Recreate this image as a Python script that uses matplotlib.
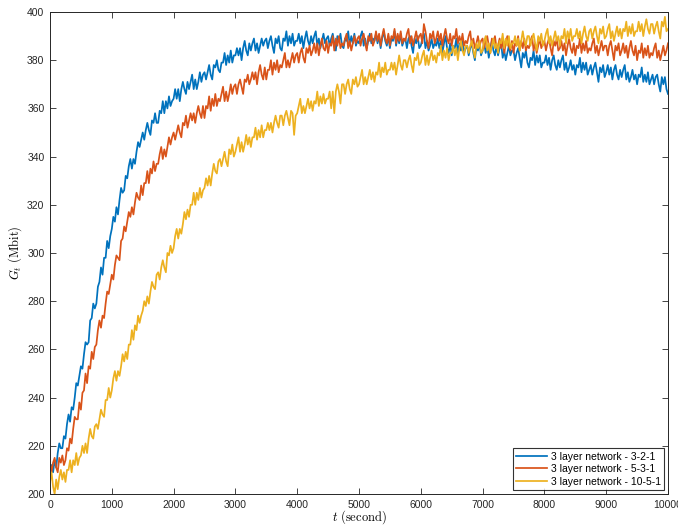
import matplotlib
matplotlib.use("Agg")
import matplotlib.pyplot as plt
import numpy as np

plt.rcParams['font.family'] = ['Liberation Sans', 'DejaVu Sans']
plt.rcParams['mathtext.fontset'] = 'cm'

t_start, t_step = 0, 25

blue_321 = [
    207, 212, 209, 214, 211, 217, 221, 219, 219, 224,
    223, 229, 233, 230, 236, 235, 240, 246, 245, 249,
    253, 252, 258, 263, 262, 263, 272, 273, 279, 277,
    279, 286, 288, 294, 291, 298, 298, 305, 302, 307,
    310, 315, 313, 319, 316, 322, 327, 325, 326, 332,
    331, 336, 339, 335, 339, 337, 342, 346, 344, 347,
    350, 347, 351, 354, 351, 349, 355, 354, 358, 354,
    354, 359, 358, 363, 358, 363, 360, 365, 361, 363,
    364, 368, 364, 368, 363, 368, 371, 368, 366, 371,
    368, 371, 374, 368, 372, 368, 371, 375, 371, 374,
    375, 372, 375, 378, 374, 372, 378, 377, 380, 376,
    375, 379, 379, 383, 378, 382, 379, 384, 379, 382,
    382, 385, 382, 385, 380, 385, 388, 384, 382, 387,
    384, 387, 389, 384, 387, 383, 386, 389, 386, 388,
    389, 385, 388, 390, 386, 383, 389, 387, 390, 385,
    384, 389, 388, 392, 386, 390, 387, 391, 386, 388,
    388, 391, 387, 390, 385, 389, 392, 388, 386, 390,
    387, 390, 392, 386, 389, 385, 388, 391, 387, 389,
    390, 386, 389, 391, 387, 384, 390, 388, 391, 386,
    385, 389, 388, 392, 386, 390, 387, 391, 386, 388,
    387, 390, 392, 386, 389, 385, 388, 391, 387, 389,
    388, 391, 387, 390, 385, 389, 392, 388, 386, 390,
    385, 389, 388, 392, 386, 390, 387, 391, 386, 388,
    389, 385, 389, 390, 386, 383, 389, 387, 390, 385,
    386, 389, 391, 385, 388, 384, 386, 389, 385, 387,
    386, 389, 385, 388, 383, 387, 390, 385, 383, 387,
    382, 386, 385, 389, 383, 387, 384, 388, 383, 385,
    386, 382, 385, 387, 383, 380, 386, 384, 387, 382,
    384, 387, 383, 386, 381, 385, 388, 384, 382, 386,
    382, 385, 387, 381, 384, 380, 383, 386, 382, 384,
    384, 380, 383, 385, 381, 377, 383, 381, 384, 379,
    377, 381, 380, 384, 378, 382, 379, 382, 377, 379,
    379, 382, 378, 381, 376, 380, 382, 378, 376, 380,
    377, 380, 382, 376, 379, 375, 377, 380, 376, 378,
    374, 378, 377, 381, 375, 379, 376, 379, 374, 376,
    378, 374, 377, 379, 375, 371, 377, 375, 378, 373,
    375, 378, 374, 377, 372, 376, 378, 374, 372, 376,
    373, 376, 378, 372, 375, 371, 373, 376, 372, 374,
    370, 374, 373, 377, 371, 374, 371, 375, 370, 372,
    374, 370, 373, 374, 370, 367, 373, 370, 373, 368,
    366,
]

orange_531 = [
    213, 209, 213, 215, 211, 209, 215, 213, 216, 212,
    214, 219, 218, 223, 221, 227, 232, 231, 231, 238,
    235, 242, 243, 250, 246, 253, 252, 259, 256, 261,
    262, 268, 272, 269, 274, 273, 279, 284, 283, 287,
    291, 289, 295, 299, 298, 297, 305, 306, 311, 309,
    313, 317, 315, 319, 316, 321, 325, 323, 322, 328,
    324, 329, 329, 334, 329, 335, 333, 338, 334, 337,
    337, 341, 344, 339, 343, 340, 344, 348, 345, 348,
    350, 347, 350, 353, 350, 348, 354, 353, 357, 352,
    355, 358, 355, 358, 354, 358, 361, 358, 356, 361,
    356, 361, 360, 365, 359, 364, 361, 366, 361, 364,
    363, 366, 369, 363, 367, 363, 366, 370, 366, 369,
    370, 366, 370, 372, 369, 366, 372, 371, 374, 370,
    372, 375, 372, 375, 370, 375, 378, 374, 372, 377,
    372, 376, 376, 380, 374, 379, 376, 380, 375, 378,
    377, 380, 383, 377, 380, 377, 380, 383, 379, 382,
    383, 379, 383, 385, 381, 379, 385, 383, 386, 382,
    384, 387, 383, 387, 382, 386, 389, 385, 384, 388,
    383, 387, 386, 390, 384, 389, 386, 390, 385, 387,
    386, 389, 391, 385, 388, 384, 387, 390, 387, 389,
    390, 386, 389, 391, 387, 384, 390, 388, 391, 386,
    388, 392, 388, 391, 386, 390, 393, 389, 387, 391,
    386, 390, 389, 393, 387, 391, 388, 392, 387, 389,
    388, 391, 393, 387, 390, 386, 389, 392, 388, 390,
    391, 387, 395, 392, 388, 385, 391, 389, 392, 387,
    389, 392, 388, 391, 386, 390, 393, 389, 387, 391,
    386, 390, 389, 393, 387, 390, 387, 391, 386, 388,
    387, 390, 392, 386, 389, 385, 387, 390, 386, 388,
    389, 385, 388, 390, 386, 383, 389, 387, 390, 385,
    386, 389, 385, 388, 383, 387, 390, 386, 384, 388,
    383, 387, 386, 390, 384, 388, 385, 389, 384, 386,
    385, 388, 390, 384, 387, 383, 386, 389, 385, 387,
    388, 384, 387, 389, 385, 382, 388, 386, 389, 384,
    385, 388, 384, 387, 382, 386, 389, 385, 383, 387,
    382, 386, 385, 389, 383, 387, 384, 388, 383, 385,
    384, 387, 389, 383, 386, 382, 385, 388, 384, 386,
    386, 382, 386, 388, 384, 380, 386, 384, 387, 382,
    384, 387, 383, 386, 381, 385, 388, 384, 382, 386,
    380, 384, 383, 387, 381, 385, 382, 386, 381, 383,
    382, 385, 387, 381, 384, 380, 383, 386, 382, 384,
    387,
]

yellow_1051 = [
    205, 209, 203, 200, 206, 202, 207, 210, 206, 209,
    205, 210, 210, 214, 209, 214, 212, 217, 212, 215,
    216, 220, 217, 221, 217, 223, 227, 224, 223, 228,
    229, 227, 231, 235, 233, 232, 239, 239, 244, 240,
    243, 248, 251, 247, 251, 249, 253, 258, 255, 259,
    256, 262, 262, 268, 264, 270, 268, 274, 271, 274,
    276, 280, 278, 282, 279, 284, 288, 286, 285, 291,
    292, 289, 294, 297, 294, 292, 300, 299, 303, 300,
    302, 307, 310, 306, 310, 308, 312, 317, 314, 318,
    315, 320, 320, 325, 320, 325, 322, 327, 323, 326,
    327, 331, 328, 332, 328, 333, 337, 334, 333, 338,
    339, 336, 339, 342, 338, 336, 343, 341, 345, 340,
    342, 345, 348, 342, 346, 342, 345, 349, 345, 348,
    344, 348, 348, 352, 347, 351, 348, 353, 348, 351,
    351, 354, 351, 354, 350, 354, 357, 354, 352, 357,
    357, 353, 357, 359, 356, 353, 359, 358, 349, 357,
    358, 361, 364, 358, 361, 358, 361, 364, 360, 363,
    359, 363, 362, 367, 361, 365, 362, 366, 362, 364,
    364, 367, 360, 367, 358, 367, 370, 367, 362, 370,
    370, 366, 370, 372, 368, 366, 372, 370, 373, 369,
    370, 373, 376, 370, 373, 370, 373, 376, 372, 375,
    371, 375, 374, 379, 373, 377, 375, 379, 374, 376,
    376, 379, 376, 379, 374, 378, 382, 378, 376, 380,
    380, 377, 380, 382, 378, 375, 381, 380, 383, 378,
    379, 382, 384, 378, 382, 378, 381, 384, 380, 382,
    379, 383, 382, 386, 380, 384, 381, 385, 380, 383,
    383, 386, 382, 385, 380, 385, 388, 384, 382, 386,
    386, 383, 386, 388, 384, 381, 387, 385, 388, 383,
    384, 388, 390, 384, 387, 383, 386, 389, 385, 387,
    383, 388, 387, 391, 385, 389, 386, 390, 385, 387,
    387, 390, 386, 389, 384, 388, 392, 388, 386, 390,
    390, 386, 389, 391, 387, 384, 390, 388, 391, 386,
    388, 391, 393, 387, 390, 386, 389, 392, 388, 390,
    386, 390, 389, 393, 387, 392, 389, 393, 388, 390,
    390, 393, 389, 392, 387, 391, 394, 390, 388, 392,
    393, 389, 392, 394, 390, 387, 393, 391, 394, 389,
    390, 393, 395, 389, 392, 388, 391, 394, 390, 393,
    389, 393, 392, 396, 390, 394, 391, 395, 390, 392,
    392, 396, 392, 395, 390, 394, 397, 393, 391, 395,
    395, 391, 394, 396, 392, 389, 396, 394, 398, 392,
    393,
]

labels = ['3 layer network - 3-2-1', '3 layer network - 5-3-1', '3 layer network - 10-5-1']
colors = ['#0072BD', '#D95319', '#EDB120']
x_ticks = [0, 1000, 2000, 3000, 4000, 5000, 6000, 7000, 8000, 9000, 10000]
y_ticks = [200, 220, 240, 260, 280, 300, 320, 340, 360, 380, 400]

fig = plt.figure(figsize=(6.78, 5.27), dpi=100)
ax = fig.add_axes([50/678, 33/527, 618/678, 482/527])

for series, lab, col in zip([blue_321, orange_531, yellow_1051], labels, colors):
    t = t_start + t_step * np.arange(len(series))
    ax.plot(t, series, color=col, lw=1.25, label=lab)

ax.set_xlim(0, 10000)
ax.set_ylim(200, 400)
ax.set_xticks(x_ticks)
ax.set_yticks(y_ticks)
ax.tick_params(direction='in', length=4, width=0.6, top=True, right=True,
               labelsize=7.5, colors='#262626', pad=4)
for s in ax.spines.values():
    s.set_linewidth(0.7)
    s.set_color('#262626')

ax.set_xlabel(r'$t\ \mathrm{(second)}$', fontsize=9, labelpad=-1)
ax.set_ylabel(r'$G_t\ \mathrm{(Mbit)}$', fontsize=9, labelpad=2)

leg = ax.legend(loc='lower right', fontsize=7.5, frameon=True, fancybox=False,
                edgecolor='black', borderpad=0.3, labelspacing=0.25,
                handlelength=3.0, handletextpad=0.3, borderaxespad=0.4)
leg.get_frame().set_linewidth(0.8)

fig.savefig('out.png', dpi=100)
